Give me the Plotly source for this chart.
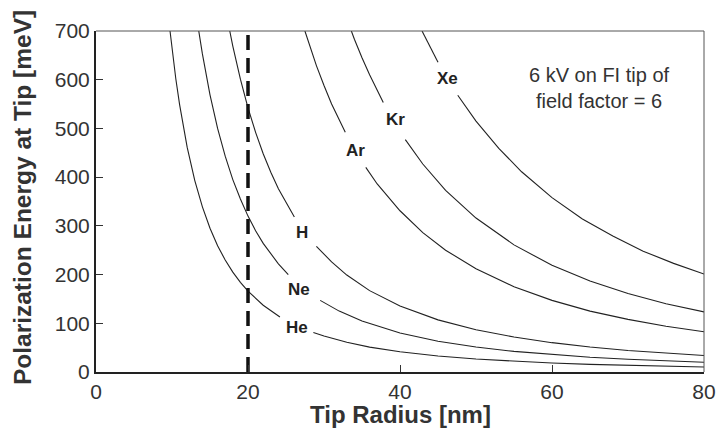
import plotly.graph_objects as go

# Tip radius [nm] and polarization energy [meV]; None = gap for label
he_r = [9.74, 10, 10.5, 11, 12, 13, 14, 15, 16, 17, 18, 19, 20, 22, 24.2, None,
        28.6, 30, 33, 36, 40, 45, 50, 55, 60, 65, 70, 75, 80]
he_e = [700, 664, 602, 549, 461, 393, 339, 295, 259, 230, 205, 184, 166, 137, 113, None,
        81, 74, 61, 51, 41.5, 32.8, 26.6, 21.9, 18.4, 15.7, 13.6, 11.8, 10.4]

ne_r = [13.52, 14, 15, 16, 17, 18, 19, 20, 21, 22, 24, 25.3, None,
        29.5, 32, 35, 40, 45, 50, 55, 60, 65, 70, 75, 80]
ne_e = [700, 653, 569, 500, 443, 395, 355, 320, 290, 264, 222, 200, None,
        147, 125, 104.5, 80, 63.2, 51.2, 42.3, 35.6, 30.3, 26.1, 22.8, 20]

h_r = [17.6, 18, 19, 20, 21, 22, 23, 24, 26.1, None,
       29, 31, 33, 36, 40, 45, 50, 55, 60, 65, 70, 75, 80]
h_e = [700, 669, 601, 542, 492, 448, 410, 376, 318, None,
       258, 226, 199, 167, 135.5, 107, 86.7, 71.7, 60.2, 51.3, 44.2, 38.5, 33.9]

ar_r = [27.49, 28, 29, 30, 31, 32.8, None,
        35.5, 37, 40, 43, 46, 50, 55, 60, 65, 70, 75, 80]
ar_e = [700, 675, 629, 588, 550, 492, None,
        420, 386, 331, 286, 250, 212, 175, 147, 125, 108, 94, 82.7]

kr_r = [33.6, 34, 35, 36, 37.8, None,
        40.7, 43, 46, 50, 55, 60, 65, 70, 75, 80]
kr_e = [700, 683, 645, 610, 553, None,
        477, 427, 373, 316, 261, 219, 187, 161, 140, 123.4]

xe_r = [42.9, 44, 45, None, 47.6, 50, 53, 56, 60, 64, 68, 72, 76, 80]
xe_e = [700, 665, 636, None, 568, 515, 459, 411, 358, 314, 279, 248, 223, 201]

gas_names = ["He", "Ne", "H", "Ar", "Kr", "Xe"]
label_r = [26.4, 26.75, 27.07, 34.08, 39.47, 46.22]
label_e = [90.6, 169, 286.7, 455.7, 518.7, 603]

marker_radius = 20
x_ticks = [0, 20, 40, 60, 80]
y_ticks = [0, 100, 200, 300, 400, 500, 600, 700]

series = [(he_r, he_e), (ne_r, ne_e), (h_r, h_e), (ar_r, ar_e), (kr_r, kr_e), (xe_r, xe_e)]

FONT = "Liberation Sans, Arial, Helvetica, sans-serif"
fig = go.Figure()
for name, (r, e) in zip(gas_names, series):
    fig.add_trace(go.Scatter(x=r, y=e, mode="lines", name=name,
                             line=dict(color="#222222", width=1.1),
                             connectgaps=False, showlegend=False))

fig.add_trace(go.Scatter(x=[marker_radius, marker_radius], y=[0, 700], mode="lines",
                         line=dict(color="#111111", width=3.5, dash="15px,8px"),
                         showlegend=False))

for name, r, e in zip(gas_names, label_r, label_e):
    fig.add_annotation(x=r, y=e, text=name, showarrow=False,
                       font=dict(family=FONT, size=17, color="#222222", weight="bold"))

fig.add_annotation(x=66.2, y=582, text="6 kV on FI tip of<br>field factor = 6",
                   showarrow=False, font=dict(family=FONT, size=20, color="#333333"))

# axis titles
fig.add_annotation(xref="paper", yref="paper", x=0.5, y=-0.124, text="<b>Tip Radius [nm]</b>",
                   showarrow=False, yanchor="middle",
                   font=dict(family=FONT, size=24, color="#333333"))
fig.add_annotation(xref="paper", yref="paper", x=-0.1217, y=0.51, xanchor="center",
                   text="<b>Polarization Energy at Tip [meV]</b>", textangle=-90,
                   showarrow=False, font=dict(family=FONT, size=24.5, color="#333333"))

# thin top and right frame
fig.add_shape(type="line", xref="paper", yref="paper", x0=0, x1=1, y0=1, y1=1,
              line=dict(color="#555555", width=1))
fig.add_shape(type="line", xref="paper", yref="paper", x0=1, x1=1, y0=0, y1=1,
              line=dict(color="#555555", width=1))

fig.update_layout(
    width=717, height=430,
    margin=dict(l=96, r=13, t=31, b=58),
    paper_bgcolor="white", plot_bgcolor="white",
    font=dict(family=FONT, color="#333333"),
)
fig.update_xaxes(range=[0, 80], tickvals=x_ticks, ticks="inside", ticklen=7,
                 tickcolor="#333333", showgrid=False, zeroline=False, automargin=False,
                 showline=True, linecolor="#222222", linewidth=2,
                 tickfont=dict(size=21, color="#333333"))
fig.update_yaxes(range=[0, 700], tickvals=y_ticks, ticks="inside", ticklen=7,
                 tickcolor="#333333", showgrid=False, zeroline=False, automargin=False,
                 showline=True, linecolor="#222222", linewidth=2,
                 tickfont=dict(size=21, color="#333333"))

fig.write_html("out.html")
